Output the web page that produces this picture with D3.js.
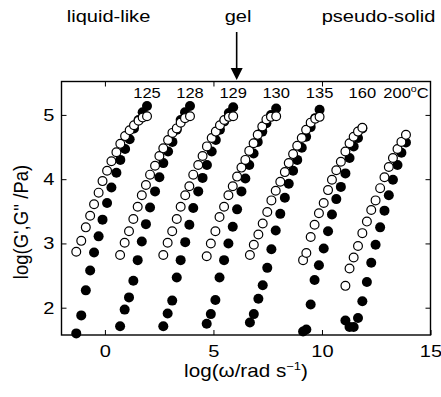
<!DOCTYPE html>
<html>
<head>
<meta charset="utf-8">
<script src="https://cdn.jsdelivr.net/npm/d3@7"></script>
<style>
  body { margin: 0; background: #fff; }
  svg { display: block; }
  text { font-family: "Liberation Sans", Arial, Helvetica, sans-serif; fill: #000; }
</style>
</head>
<body>
<svg id="chart" width="441" height="397"></svg>
<script>
// Frequency sweeps (log ω) with storage G' (filled) and loss G'' (open) moduli, log10 Pa
const temperatures = ["125", "128", "129", "130", "135", "160", "200"];

const logW125 = [-1.32, -1.09, -0.88, -0.68, -0.50, -0.29, -0.11, 0.10, 0.30, 0.53, 0.71, 0.93, 1.14, 1.34, 1.55, 1.74, 1.94];
const logG1_125 = [1.60, 1.88, 2.27, 2.58, 2.86, 3.11, 3.37, 3.63, 3.87, 4.10, 4.30, 4.47, 4.62, 4.79, 4.92, 5.04, 5.14];
const logG2_125 = [2.87, 3.04, 3.25, 3.43, 3.61, 3.79, 3.97, 4.13, 4.28, 4.42, 4.55, 4.67, 4.76, 4.84, 4.91, 4.96, 4.98];

const logW128 = [0.70, 0.91, 1.11, 1.31, 1.51, 1.70, 1.89, 2.08, 2.31, 2.51, 2.69, 2.91, 3.11, 3.31, 3.49, 3.69, 3.92];
const logG1_128 = [1.71, 1.97, 2.16, 2.42, 2.74, 3.03, 3.30, 3.56, 3.81, 4.03, 4.25, 4.43, 4.58, 4.77, 4.92, 5.04, 5.14];
const logG2_128 = [2.82, 3.01, 3.19, 3.38, 3.57, 3.75, 3.91, 4.07, 4.21, 4.36, 4.48, 4.61, 4.72, 4.79, 4.88, 4.95, 4.98];

const logW129 = [2.69, 2.89, 3.10, 3.31, 3.49, 3.70, 3.89, 4.07, 4.30, 4.50, 4.70, 4.92, 5.11, 5.30, 5.50, 5.71, 5.91];
const logG1_129 = [1.71, 1.91, 2.11, 2.47, 2.74, 3.02, 3.29, 3.55, 3.81, 4.02, 4.22, 4.43, 4.61, 4.77, 4.90, 5.03, 5.12];
const logG2_129 = [2.82, 3.01, 3.19, 3.38, 3.57, 3.75, 3.89, 4.07, 4.22, 4.36, 4.51, 4.64, 4.74, 4.84, 4.92, 4.97, 4.98];

const logW130 = [4.69, 4.88, 5.09, 5.28, 5.49, 5.69, 5.89, 6.09, 6.29, 6.47, 6.65, 6.85, 7.04, 7.25, 7.44, 7.65, 7.89];
const logG1_130 = [1.75, 1.90, 2.12, 2.47, 2.74, 3.00, 3.26, 3.53, 3.81, 4.01, 4.22, 4.40, 4.58, 4.74, 4.87, 5.00, 5.10];
const logG2_130 = [2.80, 3.00, 3.19, 3.41, 3.57, 3.75, 3.89, 4.04, 4.18, 4.30, 4.44, 4.56, 4.69, 4.82, 4.93, 4.97, 4.98];

const logW135 = [6.68, 6.86, 7.07, 7.27, 7.48, 7.67, 7.87, 8.08, 8.29, 8.47, 8.67, 8.86, 9.07, 9.27, 9.48, 9.69, 9.89];
const logG1_135 = [1.77, 1.90, 2.14, 2.35, 2.62, 2.91, 3.20, 3.46, 3.71, 3.93, 4.13, 4.30, 4.49, 4.66, 4.81, 4.95, 5.08];
const logG2_135 = [2.82, 2.98, 3.14, 3.31, 3.49, 3.67, 3.82, 3.96, 4.11, 4.25, 4.39, 4.52, 4.64, 4.77, 4.88, 4.94, 4.97];

const logW160 = [9.13, 9.28, 9.48, 9.66, 9.86, 10.08, 10.28, 10.46, 10.66, 10.87, 11.08, 11.27, 11.46, 11.66, 11.86];
const logG1_160 = [1.63, 1.66, 2.05, 2.43, 2.66, 2.92, 3.19, 3.45, 3.69, 3.88, 4.09, 4.33, 4.51, 4.64, 4.79];
const logG2_160 = [2.74, 2.85, 3.10, 3.29, 3.47, 3.63, 3.83, 3.99, 4.14, 4.27, 4.43, 4.56, 4.66, 4.74, 4.80];

const logW200 = [11.08, 11.27, 11.46, 11.66, 11.86, 12.07, 12.27, 12.47, 12.68, 12.88, 13.08, 13.27, 13.48, 13.66, 13.87];
const logG1_200 = [1.80, 1.70, 1.70, 1.84, 2.10, 2.40, 2.70, 2.98, 3.25, 3.51, 3.75, 3.99, 4.22, 4.41, 4.57];
const logG2_200 = [2.34, 2.61, 2.78, 2.96, 3.16, 3.34, 3.52, 3.67, 3.86, 4.03, 4.19, 4.33, 4.47, 4.58, 4.69];

const xTicks = [0, 5, 10, 15];
const yTicks = [2, 3, 4, 5];
const regimeLabels = ["liquid-like", "gel", "pseudo-solid"];
const gelArrowLogW = 6.07;

const series = [
  { t: temperatures[0], w: logW125, g1: logG1_125, g2: logG2_125 },
  { t: temperatures[1], w: logW128, g1: logG1_128, g2: logG2_128 },
  { t: temperatures[2], w: logW129, g1: logG1_129, g2: logG2_129 },
  { t: temperatures[3], w: logW130, g1: logG1_130, g2: logG2_130 },
  { t: temperatures[4], w: logW135, g1: logG1_135, g2: logG2_135 },
  { t: temperatures[5], w: logW160, g1: logG1_160, g2: logG2_160 },
  { t: temperatures[6], w: logW200, g1: logG1_200, g2: logG2_200 }
];

const svg = d3.select("#chart");
const L = 61.5, R = 430.5, T = 81.5, B = 335;
const x = d3.scaleLinear().domain([-2, 15]).range([L, R]);
const y = d3.scaleLinear().domain([1.575, 5.52]).range([B, T]);

// The typeface is set slightly wide
const SX = 1.18;
const tickFont = 17;

function styleAxis(g, showLabels) {
  g.select(".domain").remove();
  g.selectAll(".tick line").attr("stroke", "#000").attr("stroke-width", 1);
  g.attr("font-family", null).attr("font-size", null);
  g.selectAll(".tick text").style("font-size", tickFont + "px").attr("transform", `scale(${SX},1)`);
  if (!showLabels) g.selectAll(".tick text").remove();
}
// Axes with inward ticks on all four sides
svg.append("g").attr("transform", `translate(0,${B})`)
  .call(d3.axisBottom(x).tickValues(xTicks).tickSize(-5).tickPadding(10).tickFormat(d3.format("d")))
  .call(g => styleAxis(g, true));
svg.append("g").attr("transform", `translate(0,${T})`)
  .call(d3.axisTop(x).tickValues(xTicks.filter(v => v < 15)).tickSize(-5))
  .call(g => styleAxis(g, false));
svg.append("g").attr("transform", `translate(${L},0)`)
  .call(d3.axisLeft(y).tickValues(yTicks).tickSize(-5).tickPadding(6).tickFormat(d3.format("d")))
  .call(g => styleAxis(g, true));
svg.append("g").attr("transform", `translate(${R},0)`)
  .call(d3.axisRight(y).tickValues(yTicks).tickSize(-5))
  .call(g => styleAxis(g, false));

svg.append("rect").attr("x", L).attr("y", T).attr("width", R - L).attr("height", B - T)
  .attr("fill", "none").attr("stroke", "#000").attr("stroke-width", 1.4);

// Data markers: G' filled, G'' open
const marks = svg.append("g");
series.forEach(s => {
  const pts = s.w.map((w, i) => ({ w, g1: s.g1[i], g2: s.g2[i] }));
  marks.append("g").selectAll("circle").data(pts).join("circle")
    .attr("cx", d => x(d.w)).attr("cy", d => y(d.g1)).attr("r", 5).attr("fill", "#000");
  marks.append("g").selectAll("circle").data(pts).join("circle")
    .attr("cx", d => x(d.w)).attr("cy", d => y(d.g2)).attr("r", 4.4)
    .attr("fill", "#fff").attr("stroke", "#000").attr("stroke-width", 1.2);
});

function wideText(px, py, size, anchor) {
  return svg.append("text").attr("transform", `translate(${px},${py}) scale(${SX},1)`)
    .attr("text-anchor", anchor).style("font-size", size + "px");
}

// Temperature labels above each sweep
series.forEach((s, i) => {
  const t = wideText(x(d3.max(s.w)), 98, 14, "middle").text(s.t);
  if (i === series.length - 1) {
    t.append("tspan").attr("dy", -6).style("font-size", "9px").text("o");
    t.append("tspan").attr("dy", 6).text("C");
  }
});

// Regime labels and arrow
const regimeX = [108.5, 238, 378.5];
regimeLabels.forEach((lab, i) => wideText(regimeX[i], 22, 17, "middle").text(lab));
const ax = x(gelArrowLogW);
svg.append("line").attr("x1", ax).attr("x2", ax).attr("y1", 32).attr("y2", 70)
  .attr("stroke", "#000").attr("stroke-width", 1.6);
svg.append("path").attr("d", `M${ax - 6},68 L${ax + 6},68 L${ax},80 Z`).attr("fill", "#000");

// Axis titles
const xl = wideText((L + R) / 2, 376.5, 17.5, "middle").text("log(ω/rad s");
xl.append("tspan").attr("dy", -7).style("font-size", "11px").text("−1");
xl.append("tspan").attr("dy", 7).text(")");

svg.append("text").attr("transform", `translate(28,222) scale(1.08,1) rotate(-90)`)
  .attr("text-anchor", "middle").style("font-size", "18.5px").text("log(G',G'' /Pa)");
</script>
</body>
</html>
